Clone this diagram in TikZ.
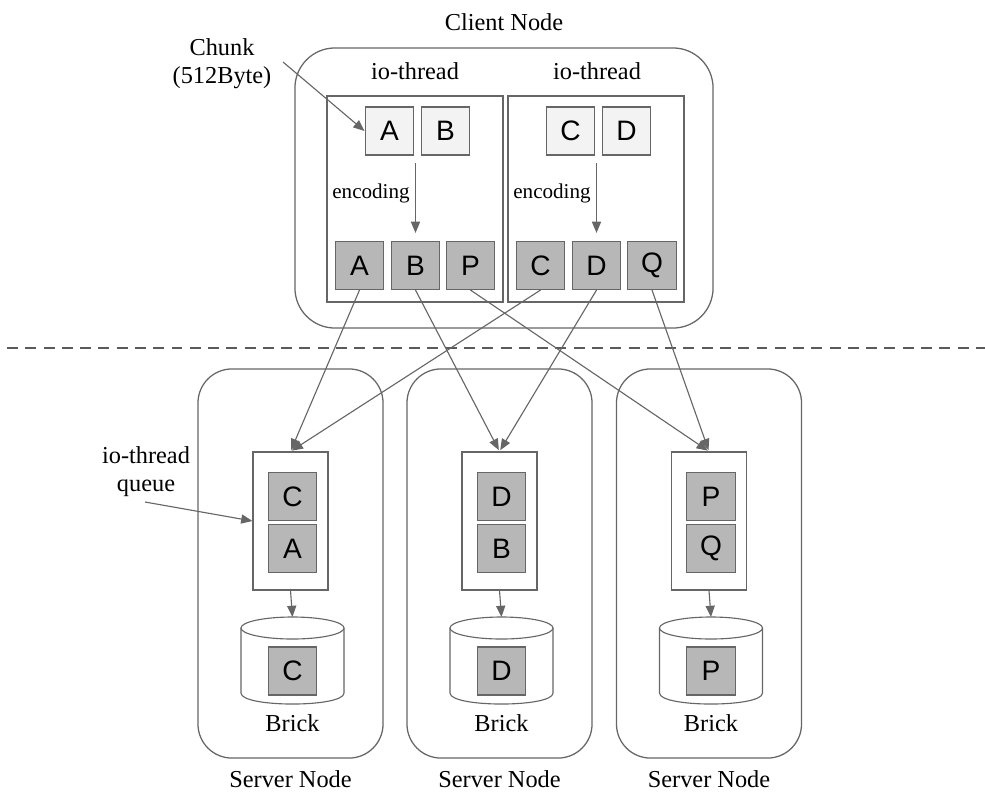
\documentclass[tikz,border=0pt]{standalone}
\usepackage{fontspec}
\setmainfont{Liberation Serif}
\setsansfont{Liberation Sans}
\usetikzlibrary{arrows.meta}
\definecolor{linegray}{RGB}{102,102,102}
\definecolor{dashgray}{RGB}{90,90,90}
\definecolor{chunkfill}{RGB}{243,243,243}
\definecolor{encfill}{RGB}{183,183,183}

\begin{document}
\begin{tikzpicture}[
  x=0.025cm, y=-0.025cm,
  font=\fontsize{17.3}{20}\selectfont,
  line/.style={draw=linegray, line width=0.8pt},
  arr/.style={line, -{Triangle[length=8pt, width=6.5pt]}},
  outer/.style={line, line width=0.9pt, rounded corners=1cm},
  chunk/.style={line, fill=chunkfill, minimum width=1.22cm, minimum height=1.2cm,
    inner sep=0pt, font=\sffamily\fontsize{20}{24}\selectfont},
  enc/.style={chunk, fill=encfill},
  lbl/.style={align=center}
]
\useasboundingbox (0,0) rectangle (985,791);
% client node
\node[outer, minimum width=10.45cm, minimum height=7cm] (client) at (504,188) {};
\node (clientlbl) at (504,22) {Client Node};
\node[line, minimum width=4.4cm, minimum height=5.15cm] (thA) at (415,199) {};
\node[line, minimum width=4.4cm, minimum height=5.15cm] (thB) at (596,199) {};
\node (thAlbl) at (415,71) {io-thread};
\node (thBlbl) at (597,71) {io-thread};
% chunks before encoding
\node[chunk] (cA) at (389.5,131) {A};
\node[chunk] (cB) at (445.5,131) {B};
\node[chunk] (cC) at (570.5,131) {C};
\node[chunk] (cD) at (626.5,131) {D};
% chunks after encoding
\node[enc] (eA) at (359.5,265.5) {A};
\node[enc] (eB) at (415.5,265.5) {B};
\node[enc] (eP) at (470.5,265.5) {P};
\node[enc] (eC) at (540.5,265.5) {C};
\node[enc] (eD) at (596.5,265.5) {D};
\node[enc] (eQ) at (652,265.5) {Q};
\coordinate (encA) at (415.5,163);
\coordinate (encB) at (596.5,163);
\draw[arr, shorten >=0.2cm] (encA) -- (eB.north);
\draw[arr, shorten >=0.2cm] (encB) -- (eD.north);
\node[font=\fontsize{15}{18}\selectfont] (encAlbl) at (371,193) {encoding};
\node[font=\fontsize{15}{18}\selectfont] (encBlbl) at (552,193) {encoding};
\node[lbl] (chunklbl) at (222,64) {Chunk\\(512Byte)};
\coordinate (chunkarr) at (283,62);
\draw[arr] (chunkarr) -- (cA.west);
% network cut
\coordinate (cutL) at (7,348);
\coordinate (cutR) at (985,348);
\draw[dashgray, line width=1.6pt, dash pattern=on 7.8pt off 5.2pt] (cutL) -- (cutR);
% server nodes
\foreach \n/\x/\qa/\qb/\bk in {L/290.5/C/A/C, M/499.5/D/B/D, R/709/P/Q/P} {
  \pgfmathsetmacro{\cx}{\x+2}
  \node[outer, rounded corners=0.85cm, minimum width=4.625cm, minimum height=9.725cm] (s\n) at (\x,563.5) {};
  \node[inner sep=1pt] (s\n lbl) at (\x,779) {Server Node};
  \node[line, fill=white, minimum width=1.875cm, minimum height=3.45cm] (q\n) at (\x,521) {};
  \node[enc] (q\n top) at (\cx,496.5) {\qa};
  \node[enc] (q\n bot) at (\cx,548.5) {\qb};
  % brick
  \draw[line, fill=white] (\cx-51.5,628) -- (\cx-51.5,693)
    .. controls (\cx-51.5,707.7) and (\cx+51.5,707.7) .. (\cx+51.5,693) -- (\cx+51.5,628);
  \draw[line, fill=white] (\cx,628) ellipse[x radius=1.2875cm, y radius=0.275cm];
  \coordinate (b\n) at (\cx,617);
  \node[enc] (b\n chunk) at (\cx,671) {\bk};
  \node (b\n lbl) at (\cx,723) {Brick};
  \draw[arr] (q\n.south) -- (b\n);
}
% client to servers
\draw[arr, shorten >=1pt] (eA.south) -- (qL.north);
\draw[arr, shorten >=1pt] (eC.south) -- (qL.north);
\draw[arr, shorten >=1pt] (eB.south) -- (qM.north);
\draw[arr, shorten >=1pt] (eD.south) -- (qM.north);
\draw[arr, shorten >=1pt] (eP.south) -- (qR.north);
\draw[arr, shorten >=1pt] (eQ.south) -- (qR.north);
\node[lbl] (qlbl) at (146,472) {io-thread\\queue};
\coordinate (qarr) at (145,502);
\draw[arr] (qarr) -- (qL.west);
\end{tikzpicture}
\end{document}
